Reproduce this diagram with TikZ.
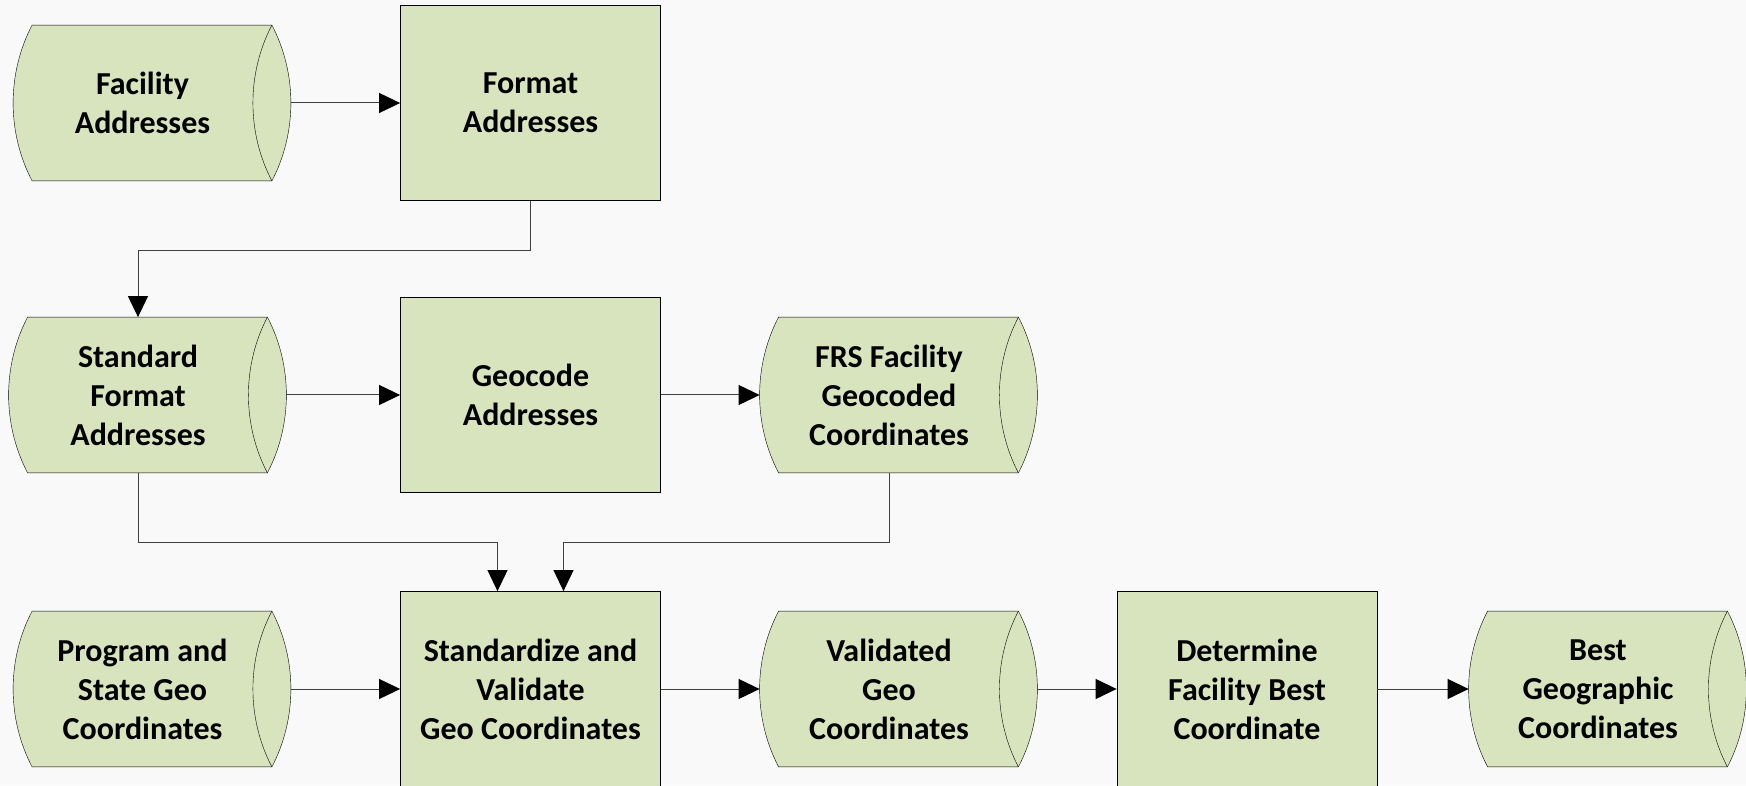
\documentclass[tikz,border=0pt]{standalone}
\usepackage{fontspec}
\setmainfont{Carlito}
\usetikzlibrary{
	positioning
	,arrows.meta
	,backgrounds
}
\definecolor{boxgreen}{HTML}{D7E4BD}
\definecolor{pagegray}{HTML}{F9F9F9}
\tikzset{
	>={Triangle[length=21pt,width=20pt,color=black]}
	,every node/.style={
		inner sep=0pt,
		align=center,
		font=\fontsize{32}{39}\selectfont\bfseries
	}
	,proc/.style={
		draw=black,
		fill=boxgreen,
		minimum width=260pt,
		minimum height=195pt
	}
	,store/.style={
		minimum width=258pt,
		minimum height=155pt
	}
	,store shape/.style={
		draw=black,
		fill=boxgreen
	}
	,link/.style={
		->,
		draw=black!75,
		line width=1pt
	}
}
\begin{document}
\begin{tikzpicture}[x=1pt, y=1pt, line width=0.8pt]
\useasboundingbox (0,0) rectangle (1746,785);
\begin{scope}[on background layer]
\fill[pagegray] (0,0) rectangle (1746,785);
\end{scope}

% data stores
\node[store] (fac) at (142.5,682) {Facility\\Addresses};
\node[store] (sfa) at (138,390) {Standard\\Format\\Addresses};
\node[store] (frs) at (889,390) {FRS Facility\\Geocoded\\Coordinates};
\node[store] (pgs) at (142.5,96) {Program and\\State Geo\\Coordinates};
\node[store] (val) at (889,96) {Validated\\Geo\\Coordinates};
\node[store] (best) at (1598,96) {Best\\Geographic\\Coordinates};

% processes
\node[proc] (fmt) at (530.5,682) {Format\\Addresses};
\node[proc] (geo) at (530.5,390) {Geocode\\Addresses};
\node[proc] (std) at (530.5,96) {Standardize and\\Validate\\Geo Coordinates};
\node[proc] (det) at (1247,96) {Determine\\Facility Best\\Coordinate};

% store outlines, behind the text
\begin{scope}[on background layer]
\foreach \n in {fac,sfa,frs,pgs,val,best}{
	\filldraw[store shape] ([xshift=19pt]\n.north west) -- (\n.north east)
		.. controls +(25.3,-48.4) and +(25.3,48.4) .. (\n.south east)
		-- ([xshift=19pt]\n.south west)
		.. controls +(-25.3,48.4) and +(-25.3,-48.4) .. ([xshift=19pt]\n.north west)
		-- cycle;
	\draw[store shape, fill=none] (\n.north east)
		.. controls +(-25.3,-48.4) and +(-25.3,48.4) .. (\n.south east);
}
\end{scope}

\draw[link] ([xshift=19pt]fac.east) -- (fmt.west);
\draw[link] (fmt.south) -- ++(0,-50) -| (sfa.north);
\draw[link] ([xshift=19pt]sfa.east) -- (geo.west);
\draw[link] (geo.east) -- (frs.west);
\draw[link] (sfa.south) -- ++(0,-70) -| ([xshift=-33pt]std.north);
\draw[link] (frs.south) -- ++(0,-70) -| ([xshift=33pt]std.north);

\foreach \a/\b in {%
pgs/std, val/det%
}{
	\draw[link] ([xshift=19pt]\a.east) -- (\b.west);
}
\foreach \a/\b in {%
std/val, det/best%
}{
	\draw[link] (\a.east) -- (\b.west);
}
\end{tikzpicture}
\end{document}
